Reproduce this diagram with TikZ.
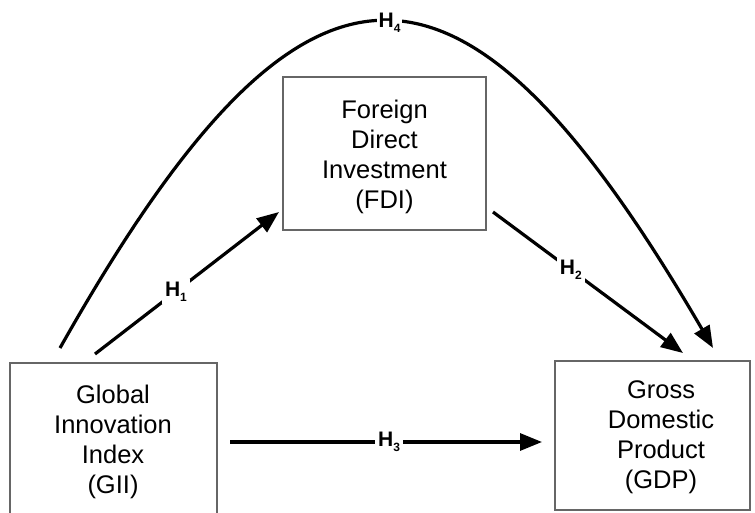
\documentclass[tikz,border=0pt]{standalone}
\usepackage{fontspec}
\setmainfont{Liberation Sans}
\usetikzlibrary{arrows.meta}
\newcommand{\hsub}[1]{\fontsize{21}{24}\selectfont\bfseries H\raisebox{-5pt}{\fontsize{12}{12}\selectfont #1}}
\begin{document}
\begin{tikzpicture}[x=1pt,y=-1pt,
  box/.style={draw=black!60, line width=2.2pt, inner sep=0pt},
  boxtext/.style={align=center, font=\fontsize{25.5}{30}\selectfont, inner sep=0pt},
  conn/.style={line width=3.2pt, -{Triangle[length=22pt,width=17pt]}},
  hlab/.style={fill=white, inner sep=3pt}]
\clip (0,0) rectangle (755,513);
\fill[white] (0,0) rectangle (755,513);
% boxes
\node[box, minimum width=207pt, minimum height=162pt] (gii) at (113.5,444) {};
\node[boxtext] (giitext) at (113,442) {Global\\Innovation\\Index\\(GII)};
\node[box, minimum width=203pt, minimum height=153pt] (fdi) at (384.5,153.5) {};
\node[boxtext] (fditext) at (384.5,157) {Foreign\\Direct\\Investment\\(FDI)};
\node[box, minimum width=195pt, minimum height=149pt] (gdp) at (652.5,435.5) {};
\node[boxtext] (gdptext) at (661,437) {Gross\\Domestic\\Product\\(GDP)};
% connector ends
\coordinate (h1s) at (95,354);
\coordinate (h1e) at (279,212);
\coordinate (h2s) at (493,212);
\coordinate (h2e) at (683,353);
\coordinate (h3s) at (230,442);
\coordinate (h3e) at (542,442);
\coordinate (h4s) at (60,348);
\coordinate (h4e) at (713,348);
% connectors
\draw[conn] (h1s) -- node[hlab, pos=0.44] (l1) {\hsub{1}} (h1e);
\draw[conn] (h2s) -- node[hlab, pos=0.41] (l2) {\hsub{2}} (h2e);
\draw[conn] (h3s) -- node[hlab, pos=0.51] (l3) {\hsub{3}} (h3e);
\draw[conn] (h4s) .. controls (305,-86) and (460,-86) .. node[hlab, pos=0.51, inner sep=2pt] (l4) {\hsub{4}} (h4e);
\end{tikzpicture}
\end{document}
